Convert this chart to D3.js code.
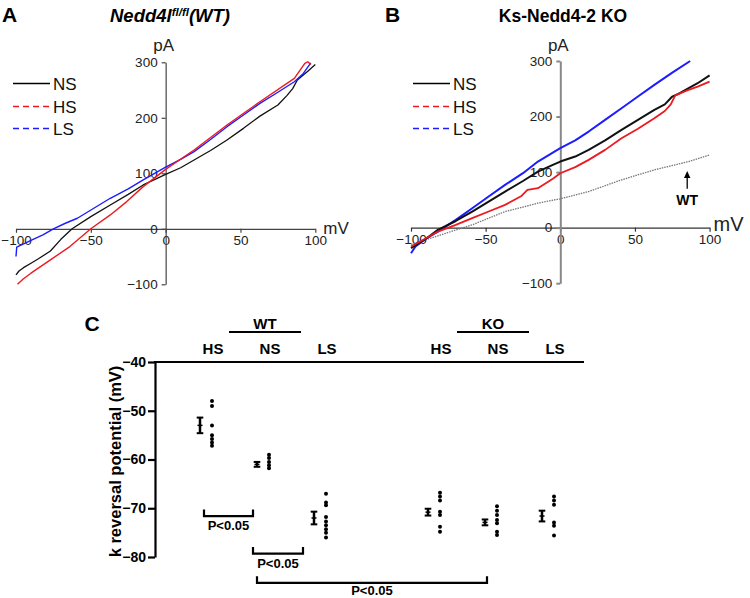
<!DOCTYPE html>
<html><head><meta charset="utf-8">
<script src="https://cdn.jsdelivr.net/npm/d3@7"></script>
<style>
html,body{margin:0;padding:0;background:#fff;}
svg{display:block;font-family:"Liberation Sans",Arial,sans-serif;}
</style></head>
<body><svg id="chart" width="750" height="598"></svg>
<script>
// ---------------- DATA ----------------
// Panel A: Nedd4l fl/fl (WT) I-V traces [mV, pA]
const A_NS = [[-100,-83],[-98,-76],[-95,-70],[-90,-62],[-85,-54],[-77,-40],[-70,-19],[-62.5,0],[-50,22],[-37,43],[-25,62],[-15,79],[0,98],[10,110],[19,124],[30,141],[41,160],[52,181],[63,203],[75,223],[81,240],[85,253],[88,268],[92,277],[95,284],[100,296]];
const A_HS = [[-99,-100],[-95,-90],[-90,-80],[-77,-56],[-64,-32],[-50,0],[-37,25],[-26,49],[-15,76],[0,107],[19,142],[41,187],[63,229],[86,271],[93,298],[95,301],[97,296]];
const A_LS = [[-100,-50],[-99.5,-33],[-90,-21],[-82,-11],[-75,0],[-67,10],[-59,19],[-48,37],[-37,55],[-25,72],[-15,88],[0,111],[10,125],[19,139],[30,161],[41,184],[52,205],[63,226],[75,246],[86,265],[92,280],[97,299]];
// Panel B: Ks-Nedd4-2 KO I-V traces
const B_NS = [[-100,-37],[-90,-20],[-82,-4],[-70,12],[-59,29],[-48,47],[-37,65],[-25,84],[-15,101],[-5,113],[0,119],[10,128],[19,140],[30,157],[41,176],[52,194],[63,212],[70,222],[75,236],[80,242],[86,251],[92,260],[100,274]];
const B_HS = [[-100,-34],[-90,-19],[-82,-7],[-70,5],[-59,17],[-48,29],[-37,41],[-26,57],[-22,68],[-15,71],[-5,88],[0,98],[10,109],[19,122],[30,140],[41,161],[52,178],[63,197],[70,210],[74,222],[77,238],[85,247],[92,254],[100,263]];
const B_LS = [[-100,-46],[-97,-34],[-90,-20],[-82,-7],[-70,14],[-59,35],[-48,56],[-37,77],[-25,98],[-15,119],[0,143],[10,157],[19,173],[30,194],[41,215],[52,236],[63,257],[75,279],[87,300]];
const B_WT = [[-100,-30],[-80,-13],[-65,0],[-59,5],[-48,17],[-37,29],[-25,37],[-15,44],[0,52],[19,65],[41,86],[63,104],[86,119],[100,131]];
const xTicks = [-100,-50,0,50,100];
const yTicks = [-100,0,100,200,300];
const legendLabels = ["NS","HS","LS"];

// Panel C: K reversal potential (mV)
const groupLabels = ["WT","KO"];
const catKeys   = ["WT-HS","WT-NS","WT-LS","gap","KO-HS","KO-NS","KO-LS"];
const catLabels = ["HS","NS","LS","","HS","NS","LS"];
const cDots = {
  "WT-HS":[-48,-49,-53,-55,-55.8,-56.5,-57.2],
  "WT-NS":[-59,-59.7,-60.5,-61.2,-61.8],
  "WT-LS":[-67,-68.8,-69.4,-71.8,-72.7,-73.5,-74.3,-75,-76],
  "KO-HS":[-66.8,-67.6,-68.4,-70.7,-71.4,-73.8,-74.8],
  "KO-NS":[-69.6,-70.5,-71.4,-72.4,-73.1,-74.8,-75.5],
  "KO-LS":[-67.6,-68.4,-69.3,-72.9,-73.6,-75.6]
};
const cMean = {"WT-HS":-53,"WT-NS":-61,"WT-LS":-72,"KO-HS":-70.8,"KO-NS":-72.9,"KO-LS":-71.6};
const cSem  = {"WT-HS":1.6,"WT-NS":0.5,"WT-LS":1.3,"KO-HS":0.7,"KO-NS":0.6,"KO-LS":1.1};
const cTicks = [-40,-50,-60,-70,-80];
const brackets = [
  {from:"WT-HS", to:"WT-NS", level:-71.6, label:"P<0.05"},
  {from:"WT-NS", to:"WT-LS", level:-79.3, label:"P<0.05"},
  {from:"WT-NS", to:"KO-NS", level:-85.3, label:"P<0.05"}
];

// ---------------- DRAW ----------------
const svg = d3.select("#chart");
const FONT = '"Liberation Sans",Arial,sans-serif';
const RED = "#ec1a1f", BLUE = "#1c1cff";

function ivPanel(opt){
  const g = svg.append("g");
  const x = d3.scaleLinear().domain([-100,100]).range(opt.xr);
  const y = d3.scaleLinear().domain([-100,300]).range(opt.yr);
  const xa = g.append("g").attr("transform",`translate(0,${y(0)})`)
    .call(d3.axisBottom(x).tickValues(xTicks).tickSize(4).tickSizeOuter(0).tickPadding(3));
  const ya = g.append("g").attr("transform",`translate(${x(0)},0)`)
    .call(d3.axisLeft(y).tickValues(yTicks).tickSize(4).tickSizeOuter(0).tickPadding(4));
  [xa,ya].forEach(a=>{
    a.selectAll("text").attr("font-size",13.5).attr("font-family",FONT).attr("fill","#222");
  });
  xa.selectAll("path,line").attr("stroke",opt.xAxisColor).attr("stroke-width",1.2);
  ya.selectAll("path,line").attr("stroke",opt.yAxisColor).attr("stroke-width",opt.yAxisW);
  g.append("text").attr("x",x(0)-2).attr("y",51).attr("text-anchor","middle")
    .attr("font-size",17).attr("fill","#222").text("pA");
  g.append("text").attr("x",x(100)+opt.mvDx).attr("y",y(0)+opt.mvDy).attr("font-size",opt.mvSize)
    .attr("fill","#222").text("mV");
  const line = d3.line().x(d=>x(d[0])).y(d=>y(d[1]));
  opt.series.forEach(s=>{
    g.append("path").datum(s.data).attr("d",line).attr("fill","none")
      .attr("stroke",s.color).attr("stroke-width",s.w).attr("stroke-linejoin","round")
      .attr("stroke-dasharray",s.dash||null);
  });
  const lg = g.append("g");
  const lstyles = [{c:"#000",d:null},{c:RED,d:"6,4"},{c:BLUE,d:"6,4"}];
  legendLabels.forEach((lab,i)=>{
    const yy = Math.round(83 + i*22.5) + 0.5;
    lg.append("line").attr("x1",opt.legX).attr("x2",opt.legX+37).attr("y1",yy).attr("y2",yy)
      .attr("stroke",lstyles[i].c).attr("stroke-width",opt.legW).attr("stroke-dasharray",lstyles[i].d);
    lg.append("text").attr("x",opt.legX+40).attr("y",yy+6).attr("font-size",17).attr("fill","#111").text(lab);
  });
  return {g,x,y};
}

// Panel A
const pa = ivPanel({xr:[16,315.3], yr:[284.3,62.3], xAxisColor:"#444", yAxisColor:"#444", yAxisW:1.2,
  mvDx:8, mvDy:5, mvSize:17, legX:13, legW:1.5,
  series:[{data:A_NS,color:"#111",w:1.3},{data:A_LS,color:BLUE,w:1.4},{data:A_HS,color:RED,w:1.4}]});
pa.g.append("text").attr("x",2).attr("y",22).attr("font-size",21).attr("font-weight","bold").text("A");
const tA = pa.g.append("text").attr("x",170).attr("y",22).attr("text-anchor","middle")
  .attr("font-size",18.5).attr("font-weight","bold").attr("font-style","italic");
tA.append("tspan").text("Nedd4l");
tA.append("tspan").attr("font-size",11.5).attr("dy",-6).text("fl/fl");
tA.append("tspan").attr("dy",6).text("(WT)");

// Panel B
const pb = ivPanel({xr:[411,709.6], yr:[283.2,61], xAxisColor:"#333", yAxisColor:"#888", yAxisW:2,
  mvDx:4, mvDy:3, mvSize:20, legX:413, legW:1.7,
  series:[{data:B_WT,color:"#777",w:1.3,dash:"1.5,1"},{data:B_LS,color:BLUE,w:2},{data:B_NS,color:"#111",w:2},{data:B_HS,color:RED,w:1.8}]});
pb.g.append("text").attr("x",385).attr("y",22).attr("font-size",21).attr("font-weight","bold").text("B");
pb.g.append("text").attr("x",563).attr("y",22).attr("text-anchor","middle")
  .attr("font-size",17.5).attr("font-weight","bold").text("Ks-Nedd4-2 KO");
const ax = pb.x(85);
pb.g.append("line").attr("x1",ax).attr("x2",ax).attr("y1",pb.y(70)).attr("y2",pb.y(96))
  .attr("stroke","#000").attr("stroke-width",1.3);
pb.g.append("path").attr("d",`M${ax},${pb.y(102)} l-3.2,7 l6.4,0 Z`).attr("fill","#000");
pb.g.append("text").attr("x",ax).attr("y",pb.y(40)).attr("text-anchor","middle")
  .attr("font-size",14).attr("font-weight","bold").text("WT");

// Panel C
const gc = svg.append("g").attr("font-weight","bold");
const xc = d3.scalePoint().domain(catKeys).range([212,554]);
const yc = d3.scaleLinear().domain([-80,-40]).range([557,362]);
const meanOff = -12;
const yax = gc.append("g").attr("transform","translate(155,0)")
  .call(d3.axisLeft(yc).tickValues(cTicks).tickSize(7).tickSizeOuter(0).tickPadding(2));
yax.selectAll("path,line").attr("stroke","#000").attr("stroke-width",2.2);
yax.selectAll("text").attr("font-size",14).attr("font-weight","bold").attr("font-family",FONT).attr("fill","#000");
gc.append("line").attr("x1",154).attr("x2",584).attr("y1",yc(-40)).attr("y2",yc(-40))
  .attr("stroke","#000").attr("stroke-width",2.2);
gc.append("text").attr("transform",`translate(121,${(yc(-40)+yc(-80))/2 + 2}) rotate(-90)`)
  .attr("text-anchor","middle").attr("font-size",16.5).text("k reversal potential (mV)");
gc.append("text").attr("x",92).attr("y",331).attr("text-anchor","middle").attr("font-size",21).text("C");
catKeys.forEach((k,i)=>{
  if(!catLabels[i]) return;
  gc.append("text").attr("x",xc(k)+1).attr("y",354).attr("text-anchor","middle").attr("font-size",15).text(catLabels[i]);
});
[["WT-HS","WT-NS","WT-LS"],["KO-HS","KO-NS","KO-LS"]].forEach((ks,i)=>{
  const cx = xc(ks[1]) - 4;
  gc.append("line").attr("x1",cx-36).attr("x2",cx+36).attr("y1",332).attr("y2",332).attr("stroke","#000").attr("stroke-width",2.2);
  gc.append("text").attr("x",cx).attr("y",329).attr("text-anchor","middle").attr("font-size",15).text(groupLabels[i]);
});
Object.keys(cDots).forEach(k=>{
  gc.selectAll(null).data(cDots[k]).enter().append("circle")
    .attr("cx",xc(k)).attr("cy",d=>yc(d)).attr("r",2).attr("fill","#000");
  const mx = xc(k)+meanOff, m = cMean[k], s = cSem[k];
  gc.append("line").attr("x1",mx).attr("x2",mx).attr("y1",yc(m+s)).attr("y2",yc(m-s)).attr("stroke","#000").attr("stroke-width",2.5);
  [m+s,m-s].forEach(v=>gc.append("line").attr("x1",mx-3.3).attr("x2",mx+3.3).attr("y1",yc(v)).attr("y2",yc(v)).attr("stroke","#000").attr("stroke-width",2));
  gc.append("line").attr("x1",mx-2.5).attr("x2",mx+2.5).attr("y1",yc(m)).attr("y2",yc(m)).attr("stroke","#000").attr("stroke-width",1.5);
});
const bInset = [[-8,-16],[-16,-23],[-12,-10]];
brackets.forEach((b,i)=>{
  const x1 = xc(b.from)+bInset[i][0], x2 = xc(b.to)+bInset[i][1], yy = yc(b.level);
  gc.append("path").attr("d",`M${x1},${yy-6.5}V${yy}H${x2}V${yy-6.5}`)
    .attr("fill","none").attr("stroke","#000").attr("stroke-width",2.2);
  gc.append("text").attr("x",(x1+x2)/2).attr("y",Math.min(yy+14,595)).attr("text-anchor","middle").attr("font-size",13).text(b.label);
});
</script></body></html>
